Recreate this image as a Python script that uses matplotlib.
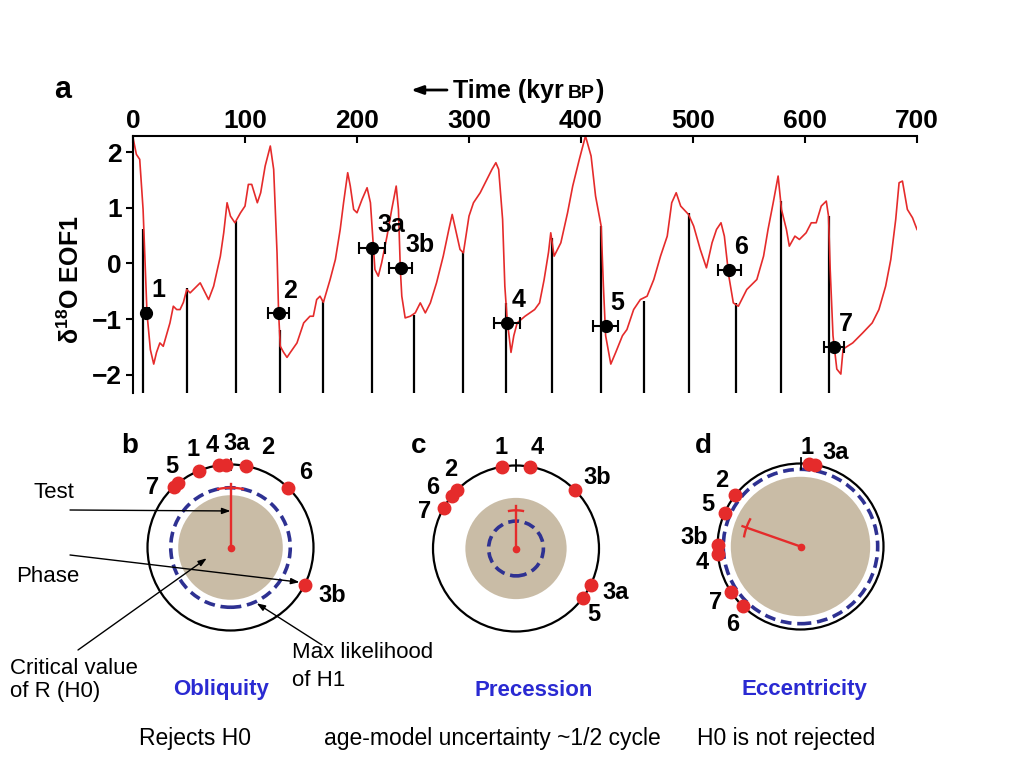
import numpy as np
import matplotlib
matplotlib.use('Agg')
import matplotlib.pyplot as plt
from matplotlib.patches import Circle

plt.rcParams['font.family'] = ['Liberation Sans', 'DejaVu Sans']
plt.rcParams['mathtext.fontset'] = 'custom'
plt.rcParams['mathtext.rm'] = 'Liberation Sans'
plt.rcParams['mathtext.bf'] = 'Liberation Sans:bold'

# ---- panel a: d18O EOF1 stack (time in kyr BP) ----
curve_t = [0, 3, 6, 9, 11, 12.5, 15.5, 18.5, 21, 24, 27, 33, 36, 39, 42, 45, 48, 51, 54, 60,
           63, 67.5, 72, 78, 81, 84, 87, 91, 96, 100, 103, 106, 111, 114, 118, 122.6, 125.6,
           128.6, 130, 131.5, 134.5, 137.5, 140.5, 146.4, 152.4, 158, 161, 164, 167, 170, 176,
           180.7, 185, 188, 191.7, 194, 197, 200, 204.5, 209, 212, 214, 216, 219, 222, 226.8,
           231, 235, 237, 238.7, 240, 243, 247.6, 252, 256.5, 261, 265.5, 271, 277, 282, 285,
           288, 292, 295, 300, 304, 310, 316, 320.5, 324, 326.5, 330, 332, 334, 337.5, 340, 343,
           350, 358.6, 363, 367, 371, 373, 376, 382, 388, 392.6, 398.5, 404, 409, 413, 418, 420,
           422, 426.6, 431, 437, 441, 447, 453, 459, 465, 471, 477, 481, 485, 489, 496, 500.6,
           506.5, 512, 517, 521, 525, 528, 532, 536, 540.5, 548, 557, 563, 567, 571.6, 576, 579,
           583.4, 586, 591, 595, 601, 605.6, 610, 614.5, 619, 621, 622.5, 625, 628.4, 632, 634,
           642.6, 651.5, 660, 666, 672, 676.6, 681, 684, 687, 691.4, 696, 700]
curve_v = [2.26, 1.96, 1.87, 0.97, -0.1, -0.9, -1.55, -1.81, -1.6, -1.43, -1.49, -1.07, -0.77,
           -0.83, -0.83, -0.7, -0.47, -0.53, -0.47, -0.35, -0.47, -0.65, -0.41, 0.13, 0.55, 1.09,
           0.85, 0.73, 0.91, 1.03, 1.42, 1.42, 1.09, 1.27, 1.75, 2.11, 1.69, 0.19, -0.89, -1.49,
           -1.6, -1.69, -1.6, -1.43, -1.07, -0.95, -0.95, -0.65, -0.59, -0.7, -0.29, 0.07, 0.61,
           1.09, 1.63, 1.39, 0.97, 0.91, 1.15, 1.36, 1.09, 0.49, -0.11, -0.23, 0.01, 0.49, 0.97,
           1.39, 0.97, -0.11, -0.59, -0.98, -0.95, -0.89, -0.71, -0.89, -0.71, -0.35, 0.13, 0.61,
           0.88, 0.61, 0.25, 0.19, 0.85, 1.09, 1.27, 1.51, 1.69, 1.81, 1.69, 0.79, -0.41, -1.0,
           -1.6, -1.3, -1.07, -0.95, -0.83, -0.71, -0.3, 0.2, 0.55, 0.13, 0.37, 0.91, 1.39, 1.87,
           2.29, 1.93, 1.21, 0.67, -0.41, -1.3, -1.81, -1.6, -1.3, -1.19, -0.83, -0.65, -0.59,
           -0.29, 0.13, 0.49, 1.09, 1.27, 1.03, 0.88, 0.67, 0.25, -0.08, 0.37, 0.61, 0.73, 0.49,
           -0.23, -0.71, -0.77, -0.47, -0.29, 0.13, 0.61, 1.09, 1.57, 0.97, 0.61, 0.31, 0.49,
           0.43, 0.55, 0.73, 0.73, 1.03, 1.12, 0.85, -0.11, -1.3, -1.9, -1.99, -1.54, -1.43,
           -1.25, -1.07, -0.83, -0.41, 0.07, 0.79, 1.45, 1.48, 0.97, 0.82, 0.61]

# black vertical lines (terminations) and the value they reach
term_t = [9, 48, 92, 131, 170, 213, 251, 295, 333, 374, 418, 456, 496, 538, 578.5, 621]
term_top = [0.61, -0.44, 0.76, -1.19, -0.65, 0.3, -0.92, 0.22, -0.71, 0.46, 0.67, -0.68,
            0.91, -0.71, 1.12, 0.85]

# dated events with age-model uncertainty
event_lab = ['1', '2', '3a', '3b', '4', '5', '6', '7']
event_t = [12, 130, 213.4, 239, 334, 422, 532.5, 626]
event_v = [-0.89, -0.9, 0.27, -0.08, -1.07, -1.13, -0.11, -1.5]
event_err = [2.5, 9.5, 12, 10.5, 11.5, 11, 10.3, 8.7]

# ---- phase wheels (degrees clockwise from top) ----
wheel_lab = ['1', '2', '3a', '3b', '4', '5', '6', '7']
obl_phase = [-22.5, 10.5, -3, 116.7, -8, -39, 44, -43]
pre_phase = [-9.8, -45.6, 116, 45.3, 9.6, 126.7, -50.5, -60.8]
ecc_phase = [6, -52, 10, -89, -95, -66, -136, -123]

# test statistic R, its phase and phase error, critical R under H0, max likelihood R under H1
obl_stats = dict(r_test=0.72, ph_test=0, ph_err=12, r_crit=0.63, r_ml=0.72)
pre_stats = dict(r_test=0.46, ph_test=0, ph_err=10.5, r_crit=0.61, r_ml=0.33)
ecc_stats = dict(r_test=0.69, ph_test=-70.7, ph_err=9, r_crit=0.84, r_ml=0.93)

# label placement around the wheels (angle, radius) - layout only
obl_lab_pos = [(-21, 1.27), (20.3, 1.28), (3.6, 1.25), (115.3, 1.35), (-10.4, 1.25),
               (-36, 1.21), (45.4, 1.28), (-52.5, 1.19)]
pre_lab_pos = [(-8.5, 1.23), (-39.6, 1.23), (114, 1.31), (49.2, 1.30), (11.8, 1.24),
               (130, 1.23), (-53.8, 1.24), (-68.3, 1.19)]
ecc_lab_pos = [(3.7, 1.19), (-50, 1.24), (20.6, 1.21), (-85, 1.29), (-99.5, 1.2),
               (-65.6, 1.23), (-139, 1.24), (-123.5, 1.23)]

RED = '#e52b2b'
TAN = '#c9bca6'
NAVY = '#2e3192'
BLUE = '#2a2ad2'

W, H = 1023, 767
fig = plt.figure(figsize=(W / 100, H / 100), dpi=100)


def px_box(x0, y0, x1, y1):
    return [x0 / W, 1 - y1 / H, (x1 - x0) / W, (y1 - y0) / H]


def ftext(x, y, s, **kw):
    return fig.text(x / W, 1 - y / H, s, **kw)


# ---------------- panel a ----------------
ax = fig.add_axes(px_box(133, 136, 917, 393))
ylo, yhi = -2.33, 2.29
ax.vlines(term_t, ylo, term_top, color='k', lw=1.6, zorder=1)
ax.plot(curve_t, curve_v, color=RED, lw=1.2, zorder=2)
ax.errorbar(event_t, event_v, xerr=event_err, fmt='o', color='k', ms=8.5,
            capsize=4.5, elinewidth=1.5, capthick=1.5, zorder=3)
for lab, t, v in zip(event_lab, event_t, event_v):
    ax.annotate(lab, (t, v), xytext=(3.6, 16.5), textcoords='offset points',
                ha='left', va='center', fontsize=18, fontweight='bold')

ax.set_xlim(0, 700)
ax.set_ylim(ylo, yhi)
ax.set_xticks(range(0, 701, 100))
ax.set_yticks([-2, -1, 0, 1, 2])
ax.spines[['right', 'bottom']].set_visible(False)
for side in ['top', 'left']:
    ax.spines[side].set_linewidth(1.5)
ax.xaxis.tick_top()
ax.tick_params(axis='x', direction='in', length=5, width=1.5, pad=2, labelsize=19)
ax.tick_params(axis='y', direction='out', length=5, width=1.5, pad=3, labelsize=19)
for lab in ax.get_xticklabels() + ax.get_yticklabels():
    lab.set_fontweight('bold')
ax.set_ylabel(r'δ$^{\mathbf{18}}$O EOF1', fontsize=18, fontweight='bold')
ax.yaxis.set_label_coords(-0.062, 0.44)

ftext(63, 90, 'a', fontsize=22, fontweight='bold', ha='center', va='center')

# title with arrow and small-caps BP
ax.annotate('', xy=(411, H - 90), xycoords='figure pixels',
            xytext=(447, H - 90), textcoords='figure pixels',
            arrowprops=dict(arrowstyle='-|>,head_length=0.7,head_width=0.25',
                            lw=2, color='k', shrinkA=0, shrinkB=0))
t1 = ftext(453, 98, 'Time (kyr', fontsize=18, fontweight='bold', va='baseline')
fig.canvas.draw()
bb = t1.get_window_extent()
t2 = fig.text((bb.x1 + 4) / W, 1 - 98 / H, 'BP', fontsize=14, fontweight='bold', va='baseline')
fig.canvas.draw()
bb2 = t2.get_window_extent()
fig.text((bb2.x1 + 1) / W, 1 - 98 / H, ')', fontsize=18, fontweight='bold', va='baseline')


# ---------------- phase wheels ----------------
def wheel(cx, cy, phases, lab_pos, st):
    s = 83.0
    half = 135
    wax = fig.add_axes(px_box(cx - half, cy - half, cx + half, cy + half))
    lim = half / s
    wax.set_xlim(-lim, lim)
    wax.set_ylim(-lim, lim)
    wax.axis('off')
    wax.add_patch(Circle((0, 0), st['r_crit'], fc=TAN, ec='none', zorder=1))
    wax.add_patch(Circle((0, 0), st['r_ml'], fill=False, ec=NAVY, lw=2.6,
                         ls=(0, (3, 1.6)), zorder=2))
    wax.add_patch(Circle((0, 0), 1.0, fill=False, ec='k', lw=1.6, zorder=2))
    wax.plot([0, 0], [0.93, 1.07], color='k', lw=1.3, zorder=3)

    th = np.radians(phases)
    wax.plot(np.sin(th), np.cos(th), 'o', color=RED, ms=9, mec=RED, zorder=5)
    for lab, (a, r) in zip(wheel_lab, lab_pos):
        ar = np.radians(a)
        wax.text(r * np.sin(ar), r * np.cos(ar), lab, fontsize=17, fontweight='bold',
                 ha='center', va='center', zorder=6)

    # test vector with phase-error arc
    pt = np.radians(st['ph_test'])
    rt = st['r_test']
    wax.plot([0, (rt + 0.05) * np.sin(pt)], [0, (rt + 0.05) * np.cos(pt)],
             color=RED, lw=1.7, zorder=4)
    arc = np.radians(np.linspace(st['ph_test'] - st['ph_err'], st['ph_test'] + st['ph_err'], 20))
    wax.plot(rt * np.sin(arc), rt * np.cos(arc), color=RED, lw=1.7, zorder=4)
    wax.plot([0], [0], 'o', color=RED, ms=4.5, zorder=4)
    return wax


cb = (230.5, 547.5)
wb = wheel(cb[0], cb[1], obl_phase, obl_lab_pos, obl_stats)
wheel(516, 548.5, pre_phase, pre_lab_pos, pre_stats)
wheel(800.5, 546.5, ecc_phase, ecc_lab_pos, ecc_stats)

for x, y, s in [(130, 446, 'b'), (419, 446, 'c'), (703, 446, 'd')]:
    ftext(x, y, s, fontsize=20, fontweight='bold', ha='center', va='center')


# explanatory arrows on wheel b (xy in wheel coords, tail in figure pixels)
def pointer(xy, tail):
    wb.annotate('', xy=xy, xycoords='data', xytext=(tail[0], H - tail[1]),
                textcoords='figure pixels', annotation_clip=False,
                arrowprops=dict(arrowstyle='-|>,head_length=0.5,head_width=0.18',
                                lw=1.0, color='k', shrinkA=0, shrinkB=0))


sc = 83.0
p3b = np.radians(obl_phase[3])
pointer((0, 0.44), (70, 510))
pointer((0.93 * np.sin(p3b), 0.93 * np.cos(p3b)), (70, 555))
pointer(((206.7 - cb[0]) / sc, (cb[1] - 558.3) / sc), (78, 650))
pointer((0.316, -0.672), (322, 645))

ftext(54, 493, 'Test', fontsize=16, ha='center', va='center')
ftext(48, 576, 'Phase', fontsize=16, ha='center', va='center')
ftext(10, 668, 'Critical value', fontsize=16, ha='left', va='center')
ftext(10, 692, 'of R (H0)', fontsize=16, ha='left', va='center')
ftext(292, 652, 'Max likelihood', fontsize=16, ha='left', va='center')
ftext(292, 680, 'of H1', fontsize=16, ha='left', va='center')

ftext(221, 690, 'Obliquity', fontsize=16, fontweight='bold', color=BLUE, ha='center', va='center')
ftext(534, 690, 'Precession', fontsize=16, fontweight='bold', color=BLUE, ha='center', va='center')
ftext(804, 690, 'Eccentricity', fontsize=16, fontweight='bold', color=BLUE, ha='center', va='center')

ftext(195, 738, 'Rejects H0', fontsize=16.5, ha='center', va='center')
ftext(492, 738, 'age-model uncertainty ~1/2 cycle', fontsize=16.5, ha='center', va='center')
ftext(786, 738, 'H0 is not rejected', fontsize=16.5, ha='center', va='center')

fig.savefig('out.png', dpi=100)
